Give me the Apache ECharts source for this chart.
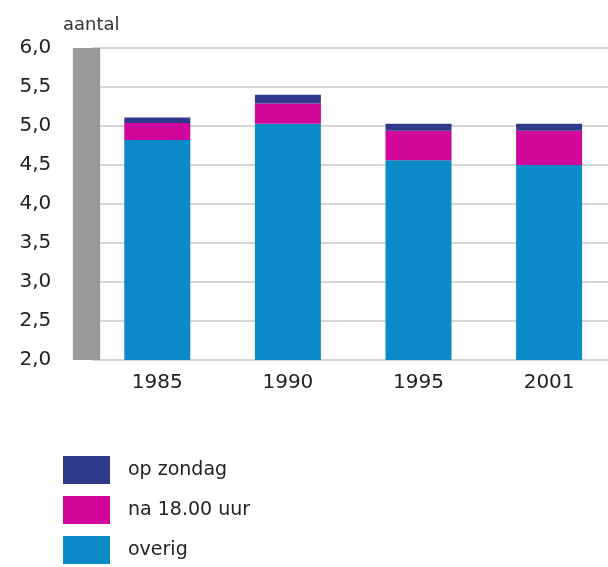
<!DOCTYPE html>
<html>
<head>
<meta charset="utf-8">
<script src="https://cdn.jsdelivr.net/npm/echarts@6/dist/echarts.min.js"></script>
<style>
  html, body { margin: 0; padding: 0; background: #fff; overflow: hidden; }
  /* the plot runs slightly past the right edge of the window */
  #chart { width: 640px; height: 567px; }
</style>
</head>
<body>
<div id="chart"></div>
<script>
// Years on the horizontal axis
const years = ['1985', '1990', '1995', '2001'];

// Stacked components (aantal)
const overig = [4.82, 5.03, 4.56, 4.50];
const na1800 = [0.22, 0.26, 0.38, 0.44];
const opZondag = [0.07, 0.11, 0.09, 0.09];

// Value-axis tick labels, from 2,0 up to 6,0
const tickValues = [2.0, 2.5, 3.0, 3.5, 4.0, 4.5, 5.0, 5.5, 6.0];
const tickLabels = ['2,0', '2,5', '3,0', '3,5', '4,0', '4,5', '5,0', '5,5', '6,0'];

const seriesNames = ['overig', 'na 18.00 uur', 'op zondag'];
const colors = { 'overig': '#0a8ac6', 'na 18.00 uur': '#d1079b', 'op zondag': '#2f3a8c' };

const font = 'DejaVu Sans, Verdana, sans-serif';
const chart = echarts.init(document.getElementById('chart'), null, { renderer: 'canvas' });

function stackSeries(name, data) {
  return {
    name: name,
    type: 'bar',
    stack: 'totaal',
    data: data,
    barWidth: 66,
    itemStyle: { color: colors[name] },
    emphasis: { disabled: true }
  };
}

chart.setOption({
  animation: false,
  title: {
    text: 'aantal',
    left: 58,
    top: 11,
    textStyle: { fontFamily: font, fontSize: 18, fontWeight: 'normal', color: '#333' }
  },
  grid: { left: 92, top: 48, width: 522.4, height: 312 },
  xAxis: {
    type: 'category',
    data: years,
    boundaryGap: true,
    axisLine: { show: false },
    axisTick: { show: false },
    axisLabel: { margin: 13, fontFamily: font, fontSize: 20, color: '#222' }
  },
  yAxis: {
    type: 'value',
    min: 2,
    max: 6,
    interval: 0.5,
    offset: 5.7,
    axisLine: { show: true, lineStyle: { color: '#9a9a9a', width: 27.3, cap: 'butt' } },
    axisTick: { show: false },
    splitLine: { show: true, lineStyle: { color: '#d6d6d6', width: 2 } },
    axisLabel: {
      margin: 35,
      fontFamily: font,
      fontSize: 20,
      color: '#222',
      formatter: function (v) {
        const i = tickValues.findIndex(t => Math.abs(t - v) < 1e-6);
        return i >= 0 ? tickLabels[i] : '';
      }
    }
  },
  legend: {
    orient: 'vertical',
    left: 63,
    top: 456,
    padding: 0,
    itemWidth: 47,
    itemHeight: 28,
    itemGap: 12,
    icon: 'rect',
    selectedMode: false,
    data: ['op zondag', 'na 18.00 uur', 'overig'],
    textStyle: { fontFamily: font, fontSize: 19, color: '#222', padding: [0, 0, 0, 13] }
  },
  series: [
    stackSeries(seriesNames[0], overig),
    stackSeries(seriesNames[1], na1800),
    stackSeries(seriesNames[2], opZondag)
  ]
});
</script>
</body>
</html>
